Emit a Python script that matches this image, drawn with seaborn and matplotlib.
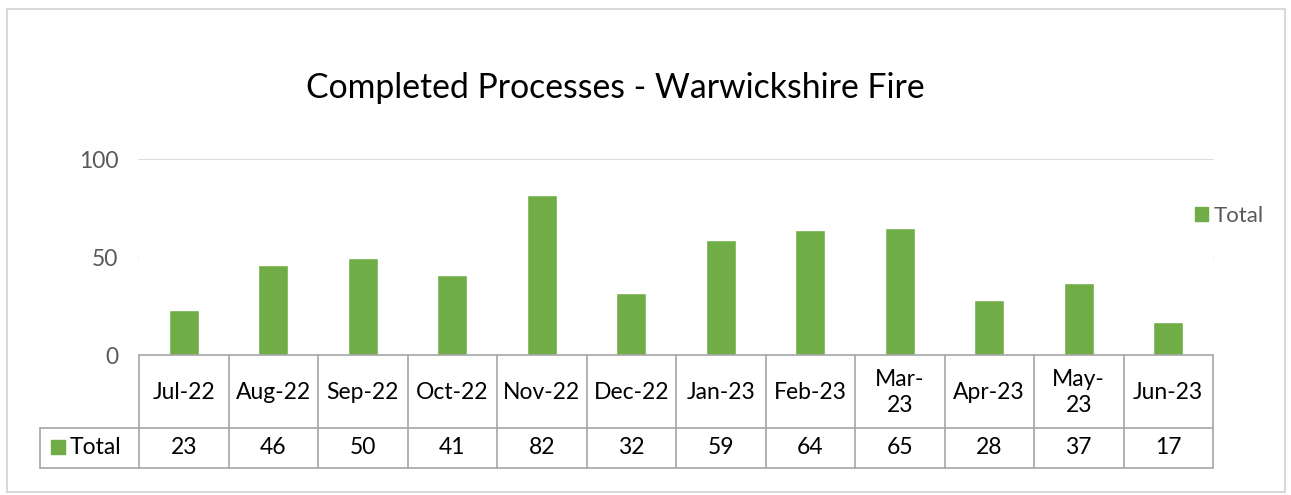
import matplotlib
matplotlib.use("Agg")
import matplotlib.pyplot as plt
import seaborn as sns
import pandas as pd

# data
months = ["Jul-22", "Aug-22", "Sep-22", "Oct-22", "Nov-22", "Dec-22",
          "Jan-23", "Feb-23", "Mar-23", "Apr-23", "May-23", "Jun-23"]
month_labels = ["Jul-22", "Aug-22", "Sep-22", "Oct-22", "Nov-22", "Dec-22",
                "Jan-23", "Feb-23", "Mar-\n23", "Apr-23", "May-\n23", "Jun-23"]
totals = [23, 46, 50, 41, 82, 32, 59, 64, 65, 28, 37, 17]
series_name = "Total"
title = "Completed Processes - Warwickshire Fire"

df = pd.DataFrame({"month": months, "total": totals})

sns.set_theme(style="white")
plt.rcParams["font.family"] = ["Lato", "DejaVu Sans"]

W, H = 1291, 495
fig = plt.figure(figsize=(W / 100, H / 100), dpi=100)

def fx(px):
    return px / W

def fy(py):
    return 1 - py / H

green = "#70AD47"
grid_c = "#D9D9D9"
line_c = "#A6A6A6"
fs = 16.5

left, right, top, bottom = 139, 1213, 160, 355
ax = fig.add_axes([fx(left), fy(bottom), fx(right) - fx(left), fy(top) - fy(bottom)])
sns.barplot(data=df, x="month", y="total", color=green, width=0.33,
            saturation=1, ax=ax)
ax.set_xlim(-0.5, len(months) - 0.5)
ax.set_ylim(0, 100)
ax.set_yticks([0, 50, 100])
ax.set_xticks([])
ax.set_xlabel("")
ax.set_ylabel("")
ax.tick_params(axis="y", labelsize=fs, labelcolor="#595959", length=0, pad=15)
for s in ax.spines.values():
    s.set_visible(False)
for v in [50, 100]:
    fig.add_artist(plt.Line2D([fx(left), fx(right)],
                              [fy(bottom - (bottom - top) * v / 100)] * 2,
                              color=grid_c, lw=1.3, zorder=0))

# title
fig.text(fx(615), fy(88), title, ha="center", va="center", fontsize=24.3, color="black")

# legend
ax.legend(handles=[plt.Rectangle((0, 0), 1, 1, color=green)], labels=[series_name],
          loc="center left", bbox_to_anchor=(fx(1186), fy(216)),
          bbox_transform=fig.transFigure, frameon=False, fontsize=16,
          handlelength=0.6, handleheight=0.6, handletextpad=0.25,
          labelcolor="#595959", borderaxespad=0)

# data table
col_w = (right - left) / len(months)
row_mid, row_bot = 428, 468
tbl_left = 40
lw = 1.2
fig.add_artist(plt.Line2D([fx(left), fx(right)], [fy(bottom)] * 2, color=line_c, lw=lw))
fig.add_artist(plt.Line2D([fx(tbl_left), fx(right)], [fy(row_mid)] * 2, color=line_c, lw=lw))
fig.add_artist(plt.Line2D([fx(tbl_left), fx(right)], [fy(row_bot)] * 2, color=line_c, lw=lw))
fig.add_artist(plt.Line2D([fx(tbl_left)] * 2, [fy(row_mid), fy(row_bot)], color=line_c, lw=lw))
for i in range(len(months) + 1):
    x = left + i * col_w
    fig.add_artist(plt.Line2D([fx(x)] * 2, [fy(bottom), fy(row_bot)], color=line_c, lw=lw))

for i, (lab, val) in enumerate(zip(month_labels, totals)):
    cx = left + (i + 0.5) * col_w
    fig.text(fx(cx), fy((bottom + row_mid) / 2 + 1), lab, ha="center", va="center",
             fontsize=fs, color="black", linespacing=1.25)
    fig.text(fx(cx), fy((row_mid + row_bot) / 2), str(val), ha="center", va="center",
             fontsize=fs, color="black")

# row label with legend key
fig.add_artist(plt.Rectangle((fx(51), fy(454)), fx(14), fy(440) - fy(454),
                             color=green, transform=fig.transFigure))
fig.text(fx(70), fy(448), series_name, ha="left", va="center", fontsize=fs, color="black")

# outer chart border
fig.add_artist(plt.Rectangle((fx(7), fy(492)), fx(1285) - fx(7), fy(9) - fy(492),
                             fill=False, edgecolor=grid_c, lw=1.5,
                             transform=fig.transFigure))

fig.savefig("out.png", dpi=100)
